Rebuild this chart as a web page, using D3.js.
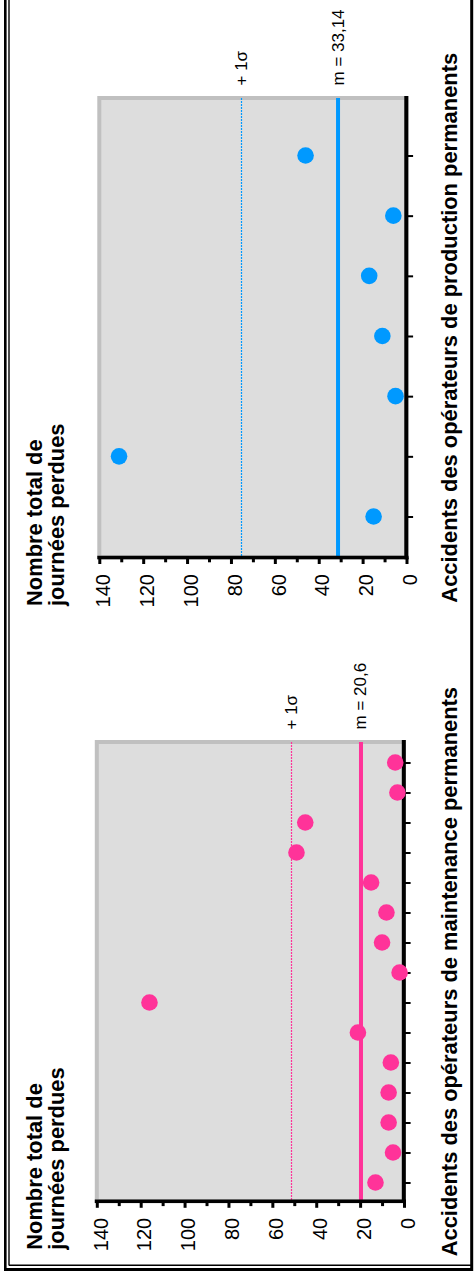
<!DOCTYPE html>
<html><head><meta charset="utf-8">
<script src="https://cdn.jsdelivr.net/npm/d3@7"></script>
<style>body{margin:0;background:#fff}svg{display:block}</style>
</head><body>
<script>
// ---- data ----
const prodCategories = [1, 2, 3, 4, 5, 6, 7];
const prodValues = [15, 131, 5, 11, 17, 6, 46];
const maintCategories = [1, 2, 3, 4, 5, 6, 7, 8, 9, 10, 11, 12, 13, 14, 15];
const maintValues = [13, 5, 7, 7, 6, 21, 116, 2, 10, 8, 15, 49, 45, 3, 4];
const valueTicks = [0, 20, 40, 60, 80, 100, 120, 140];
const minorTicks = [10, 30, 50, 70, 90, 110, 130];
const meanLabels = ["m = 33,14", "m = 20,6"];
const meanLineValues = [31.2, 19.6];
const sigmaLineValues = [75.1, 51.2];
const sigmaLabel = "+ 1\u03c3";
const yTitleLines = ["Nombre total de", "journées perdues"];
const xTitles = ["Accidents des opérateurs de production permanents",
                 "Accidents des opérateurs de maintenance permanents"];
const colors = ["#0099ff", "#ff3399"];

const W = 475, H = 1281;
const svg = d3.select("body").append("svg").attr("width", W).attr("height", H);
const FONT = "'Liberation Sans', Arial, sans-serif";

// page frame
const frame = svg.append("g").attr("stroke", "#000").attr("fill", "none");
frame.append("line").attr("x1", 5.3).attr("x2", 5.3).attr("y1", 0).attr("y2", 1271).attr("stroke-width", 2.6);
frame.append("line").attr("x1", 9).attr("x2", 9).attr("y1", 0).attr("y2", 1265.5).attr("stroke-width", 1.4);
frame.append("line").attr("x1", 9).attr("x2", 471.5).attr("y1", 1265.2).attr("y2", 1265.2).attr("stroke-width", 1.4);
frame.append("line").attr("x1", 4).attr("x2", 473).attr("y1", 1269.5).attr("y2", 1269.5).attr("stroke-width", 3);
frame.append("line").attr("x1", 471.7).attr("x2", 471.7).attr("y1", 0).attr("y2", 1271).attr("stroke-width", 3);

const panels = [
  {cats: prodCategories, vals: prodValues, x0: 406.5, x140: 99.3, yTop: 98, yBot: 557.5, catFirst: 516.5, catLast: 155.5},
  {cats: maintCategories, vals: maintValues, x0: 404, x140: 96.8, yTop: 742, yBot: 1201.3, catFirst: 1182.5, catLast: 762.5}
];

panels.forEach((p, k) => {
  const g = svg.append("g");
  const xv = d3.scaleLinear().domain([0, 140]).range([p.x0, p.x140]);
  const yc = d3.scaleLinear().domain([p.cats[0], p.cats[p.cats.length - 1]]).range([p.catFirst, p.catLast]);
  const color = colors[k];

  // plot area
  g.append("rect")
    .attr("x", p.x140).attr("y", p.yTop)
    .attr("width", p.x0 - p.x140).attr("height", p.yBot - p.yTop)
    .attr("fill", "#dddddd").attr("stroke", "#c0c0c0").attr("stroke-width", 4);

  // sigma line (dotted) & mean line
  const sx = Math.floor(xv(sigmaLineValues[k])) + 0.5;
  g.append("line")
    .attr("x1", sx).attr("x2", sx)
    .attr("y1", Math.round(p.yTop)).attr("y2", p.yBot)
    .attr("stroke", color).attr("stroke-width", 1.2).attr("stroke-dasharray", "2,1");
  g.append("line")
    .attr("x1", xv(meanLineValues[k])).attr("x2", xv(meanLineValues[k]))
    .attr("y1", p.yTop).attr("y2", p.yBot)
    .attr("stroke", color).attr("stroke-width", 4);

  // labels of lines
  g.append("text")
    .attr("transform", `translate(${xv(sigmaLineValues[k]) + 5},${p.yTop - 12.5}) rotate(-90)`)
    .attr("font-family", FONT).attr("font-size", 17).attr("fill", "#000")
    .text(sigmaLabel);
  g.append("text")
    .attr("transform", `translate(${xv(meanLineValues[k]) + 5.5},${p.yTop - 12.5}) rotate(-90)`)
    .attr("font-family", FONT).attr("font-size", 17).attr("fill", "#000")
    .text(meanLabels[k]);

  // value axis (horizontal at bottom)
  const axMajor = d3.axisBottom(xv).tickValues(valueTicks).tickSize(6.5).tickFormat("").tickSizeOuter(0);
  const gMaj = g.append("g").attr("transform", `translate(0,${p.yBot})`).call(axMajor);
  gMaj.select(".domain").remove();
  gMaj.selectAll(".tick line").attr("stroke", "#000").attr("stroke-width", 3);
  const axMinor = d3.axisBottom(xv).tickValues(minorTicks).tickSize(4.8).tickFormat("").tickSizeOuter(0);
  const gMin = g.append("g").attr("transform", `translate(0,${p.yBot})`).call(axMinor);
  gMin.select(".domain").remove();
  gMin.selectAll(".tick line").attr("stroke", "#000").attr("stroke-width", 3);

  // category axis (vertical at right)
  const axCat = d3.axisRight(yc).tickValues(p.cats).tickSize(6.8).tickFormat("").tickSizeOuter(0);
  const gCat = g.append("g").attr("transform", `translate(${p.x0 - 0.2},0)`).call(axCat);
  gCat.select(".domain").remove();
  gCat.selectAll(".tick line").attr("stroke", "#000").attr("stroke-width", 2);

  // axis lines
  g.append("line").attr("x1", p.x140 - 2).attr("x2", p.x0 + 2)
    .attr("y1", p.yBot).attr("y2", p.yBot).attr("stroke", "#000").attr("stroke-width", 3.5);
  g.append("line").attr("x1", p.x0 - 0.2).attr("x2", p.x0 - 0.2)
    .attr("y1", p.yTop - 2).attr("y2", p.yBot + 1.7).attr("stroke", "#000").attr("stroke-width", 4);

  // value tick labels
  g.selectAll(".vlab").data(valueTicks).join("text")
    .attr("transform", d => `translate(${xv(d) + 10.7},${p.yBot + 16.5}) rotate(-90)`)
    .attr("text-anchor", "end")
    .attr("font-family", FONT).attr("font-size", 20).attr("fill", "#000")
    .text(d => d);

  // points
  g.selectAll(".pt").data(p.vals).join("circle")
    .attr("cx", d => xv(d))
    .attr("cy", (d, i) => yc(p.cats[i]))
    .attr("r", 8.3).attr("fill", color);

  // titles
  const yt = g.append("text")
    .attr("transform", `translate(0,${p.yBot + 48.5}) rotate(-90)`)
    .attr("font-family", FONT).attr("font-size", 21.9).attr("font-weight", "bold").attr("fill", "#000");
  yt.append("tspan").attr("x", 0).attr("y", 41.7).text(yTitleLines[0]);
  yt.append("tspan").attr("x", 0).attr("y", 63.6).text(yTitleLines[1]);

  g.append("text")
    .attr("transform", `translate(457,${(p.yTop + p.yBot) / 2}) rotate(-90)`)
    .attr("text-anchor", "middle")
    .attr("font-family", FONT).attr("font-size", 21.9).attr("font-weight", "bold").attr("fill", "#000")
    .text(xTitles[k]);
});
</script>
</body></html>
